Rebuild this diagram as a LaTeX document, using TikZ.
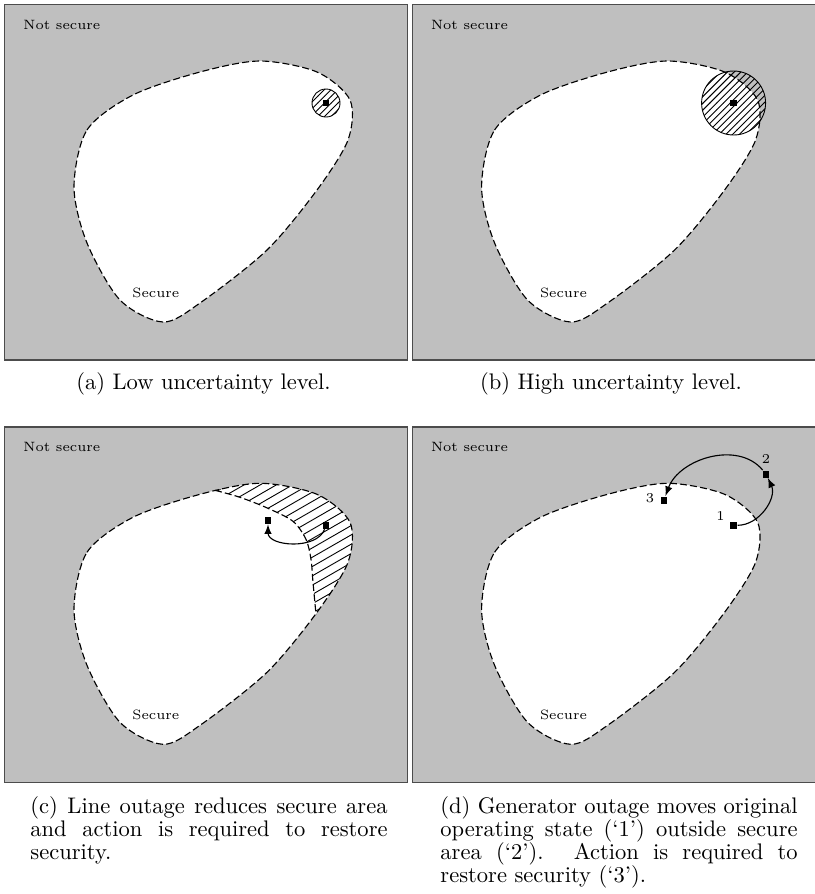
\documentclass[tikz,border=0pt]{standalone}
\usepackage{tikz}
\usetikzlibrary{arrows,patterns}

\begin{document}
\begin{tikzpicture}[x=0.4438pt, y=-0.4438pt,
		panel/.style={fill=gray!50, draw=black!70, line width=0.6pt},
		boundary/.style={dash pattern=on 3.1pt off 1.4pt, line width=0.5pt},
		region/.style={font={\fontsize{6}{7}\selectfont}, inner sep=0pt},
		opstate/.style={fill=black, minimum size=3.1pt, inner sep=0pt},
		move/.style={-latex, line width=0.5pt},
		caption/.style={inner sep=0pt, align=justify, font={\fontsize{10}{10.3}\selectfont\hyphenpenalty=10000\exhyphenpenalty=10000}}]
		% Secure region and the reduced one after the line outage
		\def\secure{plot[smooth cycle] coordinates {(74,187) (87,130) (133,95) (200,72) (260,61) (317,72) (350,100) (348,140) (317,190) (267,250) (200,303) (163,322) (120,300) (87,243)}}
		\def\cut{plot[smooth] coordinates {(215,68) (240,75) (268,86) (293,99) (306,117) (311,137) (313,160) (316,192)}}
		
		\useasboundingbox (0,0) rectangle (814,894);
		
		% Same background in all four panels
		\foreach \dx/\dy/\p in {0/0/a, 407.6/0/b, 0/422.3/c, 407.6/422.3/d}{
			\begin{scope}[shift={(\dx,\dy)}]
				\draw[panel] (4.7,4.7) rectangle (407.7,360);
				\fill[white] \secure;
				\draw[boundary] \secure;
				\node[region, anchor=west] (unsafe-\p) at (23,25) {Not secure};
				\node[region, anchor=west] (safe-\p) at (132,293) {Secure};
			\end{scope}
		}
		
		% (a) low uncertainty
		\coordinate (ca) at (326,103);
		\draw[pattern=north east lines] (ca) circle (14);
		\node[opstate] (op-a) at (ca) {};
		
		% (b) high uncertainty
		\coordinate (cb) at (733.6,103);
		\draw[pattern=north east lines] (cb) circle (32);
		\node[opstate] (op-b) at (cb) {};
		
		% (c) line outage
		\begin{scope}[shift={(0,422.3)}]
			\begin{scope}
				\clip \secure;
				\clip \cut -- (400,192) -- (400,30) -- (215,30) -- cycle;
				\foreach \k in {0,...,40}
					\draw[line width=0.4pt] (200,{60+9.3*\k}) -- ++(200,-115);
			\end{scope}
			\draw[boundary] \cut;
			\node[opstate] (op-c) at (326,103) {};
			\node[opstate] (fix-c) at (268,98) {};
			\draw[move] (op-c) to[out=-110, in=-90] (fix-c);
		\end{scope}
		
		% (d) generator outage
		\begin{scope}[shift={(407.6,422.3)}]
			\node[opstate, label={[region, xshift=-2pt]above left:1}] (op-d) at (326,103) {};
			\node[opstate, label={[region, label distance=2.8pt]above:2}] (out-d) at (358.4,51.7) {};
			\node[opstate, label={[region, label distance=2.4pt, yshift=1pt]left:3}] (fix-d) at (256.4,77.7) {};
			\draw[move] (op-d) to[out=0, in=-65] (out-d);
			\draw[move] (out-d) to[out=130, in=70] (fix-d);
		\end{scope}
		
		% Captions
		\node[caption, anchor=base] (cap-a) at (203.5,389) {(a) Low uncertainty level.};
		\node[caption, anchor=base] (cap-b) at (611,389) {(b) High uncertainty level.};
		\node[caption, anchor=north west, text width=158.5pt] (cap-c) at (30,796)
			{(c) Line outage reduces secure area and action is required to restore security.};
		\node[caption, anchor=north west, text width=158.5pt] (cap-d) at (440,796)
			{(d) Generator outage moves original operating state (`1') outside secure area (`2'). Action is required to restore security (`3').};
	\end{tikzpicture}
\end{document}
